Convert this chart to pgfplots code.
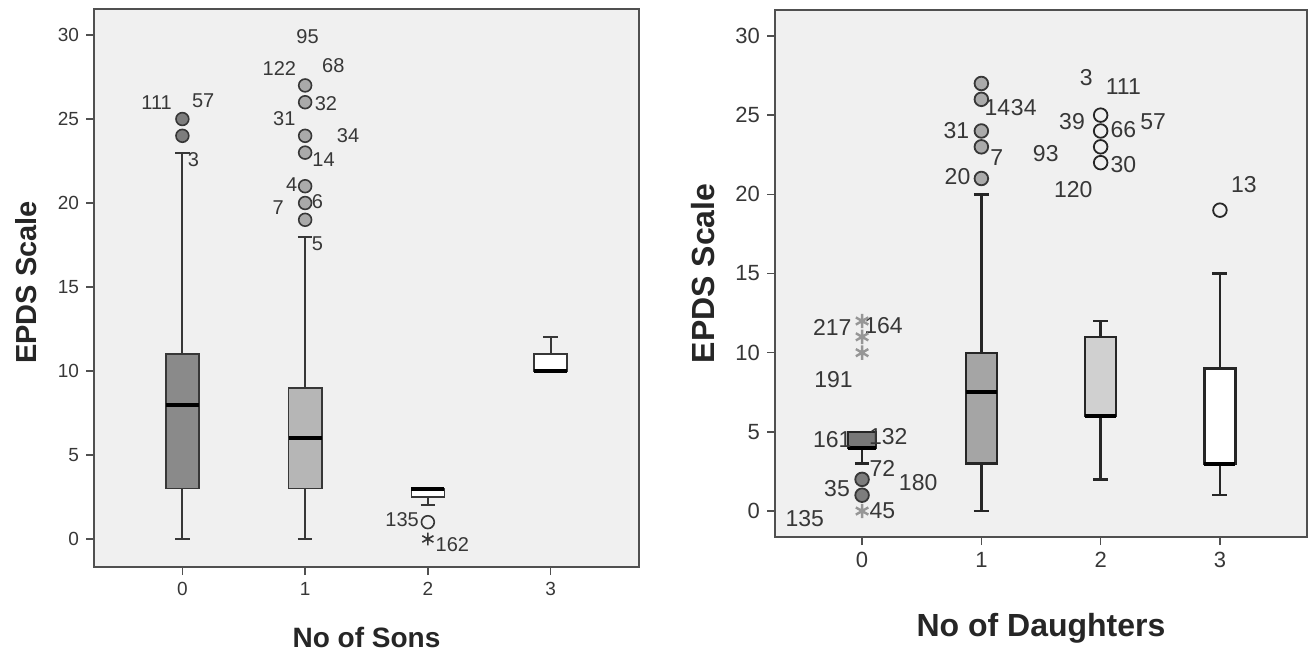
\documentclass[border=0pt]{standalone}
\usepackage{fontspec}
\setmainfont{Liberation Sans}
\usepackage{pgfplots}
\pgfplotsset{compat=1.18}
\usepgfplotslibrary{statistics}

\definecolor{bg}{RGB}{240,240,240}
\definecolor{frame}{RGB}{80,80,80}
\definecolor{txt}{RGB}{55,55,55}
\definecolor{edge}{RGB}{55,55,55}
\definecolor{lboxA}{RGB}{138,138,138}
\definecolor{lboxB}{RGB}{182,182,182}
\definecolor{rboxA}{RGB}{120,120,120}
\definecolor{rboxB}{RGB}{165,165,165}
\definecolor{rboxC}{RGB}{208,208,208}
\definecolor{outA}{RGB}{125,125,125}
\definecolor{outB}{RGB}{170,170,170}
\definecolor{star}{RGB}{150,150,150}

\tikzset{
    labL/.style={font=\fontsize{10}{10}\selectfont, text=txt, inner sep=0pt},
    labR/.style={font=\fontsize{11.5}{12}\selectfont, text=txt, inner sep=0pt},
}

\pgfplotsset{spss/.style={
    scale only axis,
    axis background/.style={fill=bg},
    axis line style={frame, line width=0.8pt},
    tick style={frame, line width=0.7pt},
    tick align=outside,
    major tick length=4pt,
    xtick pos=left, ytick pos=left,
    xmin=-0.72, xmax=3.72,
    xtick={0,1,2,3},
    ytick={0,5,...,30},
    /pgf/number format/assume math mode=true,
    tick label style={text=txt},
    label style={font=\bfseries, text=black!85},
    boxplot/draw direction=y,
    boxplot/every median/.style={line width=2pt, draw=black},
    clip=false,
}}

\begin{document}
\begin{tikzpicture}
\path[use as bounding box] (0,0) rectangle (655pt,327pt);

% ---- No of Sons
\begin{axis}[spss,
    at={(47pt,43.5pt)}, anchor=south west,
    width=272.5pt, height=279pt,
    ymin=-1.67, ymax=31.55,
    tick label style={font=\fontsize{9.5}{10}\selectfont},
    xlabel={No of Sons}, ylabel={EPDS Scale},
    xlabel style={font=\fontsize{14}{15}\selectfont\bfseries, at={(axis description cs:0.5,-0.127)}, anchor=center},
    ylabel style={font=\fontsize{14.5}{15}\selectfont\bfseries, at={(axis description cs:-0.124,0.51)}, anchor=center},
    boxplot/every whisker/.style={line width=0.9pt, draw=edge},
    boxplot/every box/.style={line width=0.8pt, draw=edge},
]
\addplot[draw=edge, fill=lboxA,
    boxplot prepared={draw position=0, lower whisker=0, lower quartile=3,
    median=8, upper quartile=11, upper whisker=23, box extend=0.27, whisker extend=0.12}]
    coordinates {};
\addplot[draw=edge, fill=lboxB,
    boxplot prepared={draw position=1, lower whisker=0, lower quartile=3,
    median=6, upper quartile=9, upper whisker=18, box extend=0.27, whisker extend=0.12}]
    coordinates {};
\addplot[draw=edge, fill=white,
    boxplot prepared={draw position=2, lower whisker=2, lower quartile=2.5,
    median=3, upper quartile=3, upper whisker=3, box extend=0.27, whisker extend=0.12}]
    coordinates {};
\addplot[draw=edge, fill=white,
    boxplot prepared={draw position=3, lower whisker=10, lower quartile=10,
    median=10, upper quartile=11, upper whisker=12, box extend=0.27, whisker extend=0.12}]
    coordinates {};

\addplot[only marks, mark=*, mark size=3.2pt, mark options={fill=outA, draw=edge, line width=0.8pt}]
    coordinates {(0,24) (0,25)};
\addplot[only marks, mark=*, mark size=3.2pt, mark options={fill=outB, draw=edge, line width=0.8pt}]
    coordinates {(1,19) (1,20) (1,21) (1,23) (1,24) (1,26) (1,27)};
\addplot[only marks, mark=o, mark size=3.2pt, mark options={fill=white, draw=edge, line width=0.8pt}]
    coordinates {(2,1)};
\addplot[only marks, mark=asterisk, mark size=3.2pt, mark options={draw=edge, line width=0.8pt}]
    coordinates {(2,0)};

\node[labL] at (axis cs:-0.21,26.0) {111};
\node[labL] at (axis cs:0.17,26.1) {57};
\node[labL] at (axis cs:0.09,22.6) {3};
\node[labL] at (axis cs:1.02,29.9) {95};
\node[labL] at (axis cs:0.79,28.0) {122};
\node[labL] at (axis cs:1.23,28.2) {68};
\node[labL] at (axis cs:1.17,25.9) {32};
\node[labL] at (axis cs:0.83,25.0) {31};
\node[labL] at (axis cs:1.35,24.0) {34};
\node[labL] at (axis cs:1.15,22.6) {14};
\node[labL] at (axis cs:0.89,21.1) {4};
\node[labL] at (axis cs:1.10,20.1) {6};
\node[labL] at (axis cs:0.78,19.7) {7};
\node[labL] at (axis cs:1.10,17.6) {5};
\node[labL] at (axis cs:1.79,1.13) {135};
\node[labL] at (axis cs:2.20,-0.36) {162};
\end{axis}

% ---- No of Daughters
\begin{axis}[spss,
    at={(387.5pt,58.5pt)}, anchor=south west,
    width=266pt, height=263.5pt,
    xmin=-0.73, xmax=3.73,
    ymin=-1.64, ymax=31.64,
    axis line style={frame, line width=1pt},
    tick label style={font=\fontsize{11}{12}\selectfont},
    xlabel={No of Daughters}, ylabel={EPDS Scale},
    xlabel style={font=\fontsize{16}{17}\selectfont\bfseries, at={(axis description cs:0.5,-0.173)}, anchor=center},
    ylabel style={font=\fontsize{16}{17}\selectfont\bfseries, at={(axis description cs:-0.135,0.5)}, anchor=center},
    boxplot/every whisker/.style={line width=1.2pt, draw=black!85},
    boxplot/every box/.style={line width=1.1pt, draw=black!85},
]
\addplot[draw=edge, fill=rboxA,
    boxplot prepared={draw position=0, lower whisker=3, lower quartile=4,
    median=4, upper quartile=5, upper whisker=5, box extend=0.23, whisker extend=0.12}]
    coordinates {};
\addplot[draw=edge, fill=rboxB,
    boxplot prepared={draw position=1, lower whisker=0, lower quartile=3,
    median=7.5, upper quartile=10, upper whisker=20, box extend=0.26, whisker extend=0.125}]
    coordinates {};
\addplot[draw=edge, fill=rboxC,
    boxplot prepared={draw position=2, lower whisker=2, lower quartile=6,
    median=6, upper quartile=11, upper whisker=12, box extend=0.26, whisker extend=0.125}]
    coordinates {};
\addplot[draw=edge, fill=white,
    boxplot prepared={draw position=3, lower whisker=1, lower quartile=3,
    median=3, upper quartile=9, upper whisker=15, box extend=0.26, whisker extend=0.125}]
    coordinates {};

\addplot[only marks, mark=*, mark size=3.4pt, mark options={fill=outA, draw=edge, line width=0.9pt}]
    coordinates {(0,1) (0,2)};
\addplot[only marks, mark=asterisk, mark size=3.6pt, mark options={draw=star, line width=1.2pt}]
    coordinates {(0,0) (0,10) (0,11) (0,12)};
\addplot[only marks, mark=*, mark size=3.4pt, mark options={fill=outB, draw=edge, line width=0.9pt}]
    coordinates {(1,21) (1,23) (1,24) (1,26) (1,27)};
\addplot[only marks, mark=*, mark size=3.4pt, mark options={fill=bg, draw=black!85, line width=0.9pt}]
    coordinates {(2,22) (2,23) (2,24) (2,25)};
\addplot[only marks, mark=*, mark size=3.4pt, mark options={fill=bg, draw=black!85, line width=0.9pt}]
    coordinates {(3,19)};

\node[labR] at (axis cs:-0.25,11.6) {217};
\node[labR] at (axis cs:0.18,11.7) {164};
\node[labR] at (axis cs:-0.24,8.3) {191};
\node[labR] at (axis cs:-0.25,4.5) {161};
\node[labR] at (axis cs:0.22,4.7) {132};
\node[labR] at (axis cs:0.17,2.7) {72};
\node[labR] at (axis cs:0.47,1.8) {180};
\node[labR] at (axis cs:-0.21,1.4) {35};
\node[labR] at (axis cs:0.17,0.0) {45};
\node[labR] at (axis cs:-0.48,-0.45) {135};
\node[labR, anchor=east] at (axis cs:1.245,25.5) {14};
\node[labR, anchor=west] at (axis cs:1.245,25.5) {34};
\node[labR] at (axis cs:0.79,24.0) {31};
\node[labR] at (axis cs:1.13,22.3) {7};
\node[labR] at (axis cs:0.80,21.1) {20};
\node[labR] at (axis cs:1.88,27.4) {3};
\node[labR] at (axis cs:2.19,26.8) {111};
\node[labR] at (axis cs:1.76,24.6) {39};
\node[labR] at (axis cs:2.19,24.1) {66};
\node[labR] at (axis cs:2.44,24.6) {57};
\node[labR] at (axis cs:1.54,22.6) {93};
\node[labR] at (axis cs:2.19,21.9) {30};
\node[labR] at (axis cs:1.77,20.3) {120};
\node[labR] at (axis cs:3.20,20.6) {13};
\end{axis}
\end{tikzpicture}
\end{document}
